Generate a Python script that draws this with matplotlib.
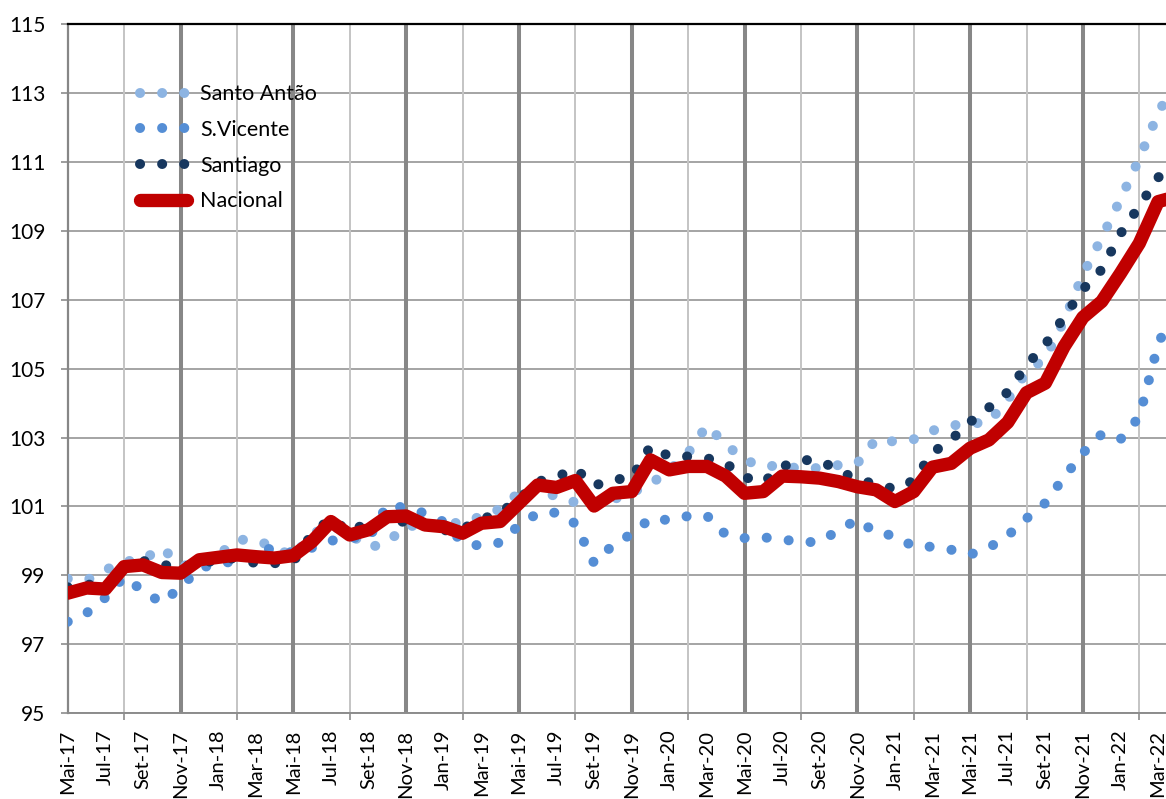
import matplotlib.pyplot as plt

# meses: 0 = Mai-17 ... 59 = Abr-22 (o ultimo fica fora do quadro, como no original)
meses = list(range(60))

santo_antao = [98.9, 98.85, 99.15, 99.4, 99.45, 99.8, 99.3, 99.25, 99.58, 100.03,
               100.03, 99.8, 99.55, 100.2, 100.45, 100.2, 99.8, 99.95, 100.45, 100.4,
               100.55, 100.5, 100.72, 100.92, 101.4, 101.62, 101.25, 101.12, 101.05, 101.2,
               101.4, 101.65, 102.05, 102.55, 103.35, 102.8, 102.35, 102.15, 102.2, 102.08,
               102.12, 102.2, 102.25, 102.95, 102.88, 102.95, 103.2, 103.35, 103.4, 103.45,
               104.1, 104.9, 105.3, 106.4, 107.73, 108.8, 109.92, 111.1, 112.42, 113.4]

s_vicente = [97.65, 97.9, 98.35, 98.95, 98.55, 98.2, 98.65, 99.2, 99.35, 99.4,
             99.72, 99.78, 99.65, 99.8, 100.0, 100.1, 100.05, 101.05, 100.95, 100.8,
             100.55, 99.95, 99.85, 99.95, 100.45, 100.8, 100.82, 100.5, 99.35, 99.88,
             100.2, 100.65, 100.6, 100.72, 100.73, 100.18, 100.08, 100.1, 100.05, 99.95,
             99.98, 100.3, 100.62, 100.23, 100.15, 99.83, 99.83, 99.74, 99.6, 99.8,
             100.15, 100.65, 101.1, 101.85, 102.55, 103.1, 102.95, 103.6, 105.7, 106.95]

santiago = [98.65, 98.75, 98.6, 99.2, 99.42, 99.3, 99.25, 99.33, 99.45, 99.5,
            99.35, 99.35, 99.4, 100.2, 100.65, 100.25, 100.55, 100.58, 100.55, 100.45,
            100.3, 100.35, 100.62, 100.82, 101.2, 101.72, 101.85, 102.1, 101.6, 101.78,
            101.82, 102.75, 102.45, 102.45, 102.4, 102.25, 101.85, 101.7, 102.15, 102.35,
            102.33, 102.05, 101.77, 101.65, 101.5, 101.75, 102.56, 102.94, 103.45, 103.87,
            104.32, 105.1, 105.7, 106.5, 107.3, 107.88, 108.92, 109.72, 110.55, 111.0]

nacional = [98.48, 98.63, 98.6, 99.25, 99.3, 99.08, 99.06, 99.45, 99.52, 99.59,
            99.54, 99.5, 99.57, 99.98, 100.56, 100.17, 100.32, 100.7, 100.72, 100.46,
            100.41, 100.22, 100.51, 100.56, 101.09, 101.62, 101.55, 101.75, 101.01, 101.38,
            101.43, 102.35, 102.06, 102.16, 102.16, 101.88, 101.38, 101.43, 101.88, 101.86,
            101.82, 101.72, 101.57, 101.48, 101.14, 101.43, 102.14, 102.25, 102.69, 102.93,
            103.44, 104.3, 104.58, 105.64, 106.49, 106.95, 107.77, 108.64, 109.85, 110.0]

rotulos_x = ["Mai-17", "Jul-17", "Set-17", "Nov-17", "Jan-18", "Mar-18",
             "Mai-18", "Jul-18", "Set-18", "Nov-18", "Jan-19", "Mar-19",
             "Mai-19", "Jul-19", "Set-19", "Nov-19", "Jan-20", "Mar-20",
             "Mai-20", "Jul-20", "Set-20", "Nov-20", "Jan-21", "Mar-21",
             "Mai-21", "Jul-21", "Set-21", "Nov-21", "Jan-22", "Mar-22"]

plt.rcParams["font.family"] = ["Lato", "DejaVu Sans"]

fig = plt.figure(figsize=(11.66, 7.99), dpi=100)
ax = fig.add_axes([67.7 / 1166, 1 - 713 / 799, 1 - 67.7 / 1166, (713 - 24.3) / 799])

# linhas de grelha verticais: finas a cada 3 meses, grossas a cada 6
for m in range(3, 60, 3):
    if m % 6 == 0:
        ax.axvline(m, color="#878787", lw=2.9, zorder=1)
    else:
        ax.axvline(m, color="#C4C4C4", lw=1.4, zorder=1)
ax.yaxis.grid(True, color="#8C8C8C", lw=1.1, zorder=1)
ax.set_axisbelow(True)

pontilhado = (0, (0.01, 2.2))
ax.plot(meses, santo_antao, color="#8DB4E2", lw=7.2, linestyle=pontilhado,
        dash_capstyle="round", label="Santo Antão", zorder=3)
ax.plot(meses, s_vicente, color="#558ED5", lw=7.2, linestyle=pontilhado,
        dash_capstyle="round", label="S.Vicente", zorder=3)
ax.plot(meses, santiago, color="#17375E", lw=7.2, linestyle=pontilhado,
        dash_capstyle="round", label="Santiago", zorder=3)
ax.plot(meses, nacional, color="#C00000", lw=9.6, solid_joinstyle="round",
        solid_capstyle="round", label="Nacional", zorder=4)

ax.set_xlim(0, 58.42)
ax.set_ylim(95, 115)
ax.set_yticks(range(95, 116, 2))

ax.set_xticks(range(0, 59, 2))
ax.set_xticklabels(rotulos_x, rotation=90, va="top", ha="center")
ax.set_xticks(range(0, 60, 3), minor=True)
ax.tick_params(axis="x", which="major", length=0, pad=12, labelsize=14.5)
ax.tick_params(axis="x", which="minor", length=5, width=1.2, color="#8C8C8C")
ax.tick_params(axis="y", length=5, width=1.2, color="#8C8C8C", pad=11, labelsize=15)

ax.spines["right"].set_visible(False)
ax.spines["top"].set_color("black")
ax.spines["top"].set_linewidth(1.6)
ax.spines["left"].set_color("#878787")
ax.spines["left"].set_linewidth(1.6)
ax.spines["bottom"].set_color("#8C8C8C")
ax.spines["bottom"].set_linewidth(1.4)

ax.legend(loc="upper left", bbox_to_anchor=(0.066, 0.913), frameon=False,
          fontsize=15.5, handlelength=2.18, handletextpad=0.6,
          labelspacing=0.73, borderpad=0, borderaxespad=0)

fig.savefig("out.png", dpi=100)
